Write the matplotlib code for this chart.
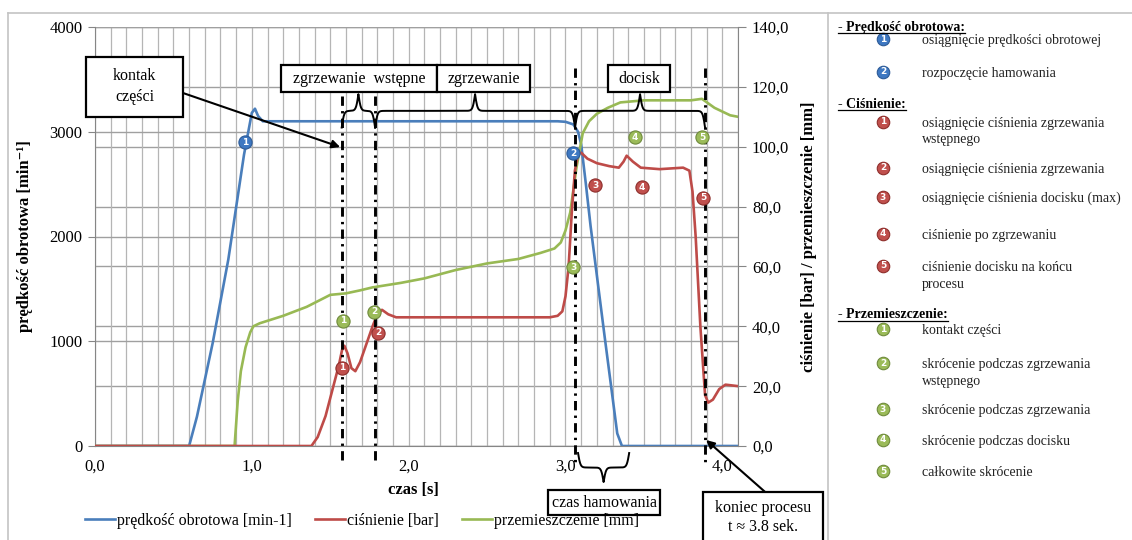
import numpy as np
import matplotlib
matplotlib.use("Agg")
import matplotlib.pyplot as plt
from matplotlib.patches import Rectangle
from matplotlib.lines import Line2D

plt.rcParams['font.family'] = ['Liberation Serif', 'DejaVu Serif']

# dane
t_pred = [0.0, 0.6, 0.65, 0.75, 0.85, 0.95, 1.0, 1.02, 1.04, 1.07, 2.95, 3.0, 3.05, 3.08, 3.1,
          3.13, 3.16, 3.25, 3.33, 3.36, 4.1]
predkosc = [0, 0, 280, 980, 1780, 2780, 3180, 3220, 3150, 3100, 3100, 3095, 3070, 3000, 2880,
            2500, 2100, 1040, 120, 0, 0]

t_cis = [0.0, 1.38, 1.42, 1.47, 1.52, 1.555, 1.575, 1.59, 1.61, 1.635, 1.66, 1.69, 1.73, 1.77,
         1.8, 1.83, 1.87, 1.92, 2.5, 2.9, 2.95, 2.98, 3.0, 3.02, 3.04, 3.06, 3.08, 3.1, 3.14,
         3.2, 3.28, 3.34, 3.37, 3.39, 3.43, 3.48, 3.6, 3.75, 3.79, 3.81, 3.83, 3.86, 3.89,
         3.91, 3.94, 3.98, 4.02, 4.1]
cisnienie = [0, 0, 3, 10, 20, 27, 32, 33.5, 31, 26, 25, 28, 34, 40,
             44, 45.5, 44, 43, 43, 43, 43.5, 45, 50, 60, 78, 92, 97.5, 98, 96,
             94.5, 93.5, 93, 95, 97, 95, 93, 92.5, 93, 92, 85, 70, 40, 17,
             14.5, 15.5, 19, 20.5, 20]

t_przem = [0.0, 0.89, 0.91, 0.93, 0.96, 0.99, 1.01, 1.05, 1.2, 1.35, 1.5, 1.6, 1.69, 1.77,
           1.95, 2.1, 2.3, 2.5, 2.7, 2.84, 2.93, 2.97, 3.0, 3.03, 3.07, 3.11, 3.15, 3.2, 3.27,
           3.35, 3.5, 3.8, 3.87, 3.95, 4.05, 4.1]
przem = [0, 0, 15, 25, 33, 38, 40, 41, 43.5, 46.5, 50.5, 51, 52, 53,
         54.5, 56, 58.8, 61, 62.5, 64.5, 66, 68, 72, 78, 93, 104.5, 108.5, 111, 113,
         114.8, 115.5, 115.5, 116, 113, 110.5, 110]

# chwile zdarzen (linie przerywane) i ich gorne konce [min-1]
t_zdarzen = [1.573, 1.786, 3.061, 3.89]
gora_zdarzen = [3340, 3340, 3609, 3609]

# punkty numerowane: (t, wartosc, numer)
pkt_pred = [(0.957, 2902, 1), (3.048, 2797, 2)]
pkt_cis = [(1.575, 26.1, 1), (1.805, 37.8, 2), (3.189, 87.2, 3), (3.489, 86.5, 4), (3.878, 82.9, 5)]
pkt_przem = [(1.582, 41.8, 1), (1.779, 44.8, 2), (3.048, 59.8, 3), (3.444, 103.2, 4), (3.871, 103.2, 5)]

x_ticks = [0.0, 1.0, 2.0, 3.0, 4.0]
y1_ticks = [0, 1000, 2000, 3000, 4000]
y2_ticks = [0, 20, 40, 60, 80, 100, 120, 140]

NIEB = '#4A7EBB'
CZER = '#BE4B48'
ZIEL = '#98B954'
kolory_pkt = {'b': ('#3E78C2', '#2C5A97'), 'r': ('#C0504D', '#8E2E2B'), 'g': ('#9BBB59', '#6F8A3C')}

W, H = 1132, 540
def fx(x):
    return x / W
def fy(y):
    return 1 - y / H

fig = plt.figure(figsize=(W / 100, H / 100), dpi=100)
ax = fig.add_axes([fx(95), fy(446), (738 - 95) / W, (446 - 27) / H])
ax2 = ax.twinx()

ax.set_xlim(0, 4.1)
ax.set_ylim(0, 4000)
ax2.set_ylim(0, 140)

# siatka
ax.set_xticks(x_ticks)
ax.set_xticks(np.arange(0, 4.1001, 0.1), minor=True)
ax.set_xticklabels([f"{v:.1f}".replace('.', ',') for v in x_ticks], fontsize=12)
ax.set_yticks(y1_ticks)
ax.set_yticklabels([str(v) for v in y1_ticks], fontsize=12)
ax2.set_yticks(y2_ticks)
ax2.set_yticklabels([f"{v:.1f}".replace('.', ',') for v in y2_ticks], fontsize=12)
ax.grid(axis='x', which='both', color='#B5B5B5', lw=0.9)
ax.grid(axis='y', which='major', color='#A0A0A0', lw=1.0)
for v in y2_ticks:
    ax.axhline(v / 140 * 4000, color='#A0A0A0', lw=1.0, zorder=0.5)
ax.set_axisbelow(True)

ax.tick_params(axis='x', which='both', length=0, pad=9)
ax.tick_params(axis='y', length=5, color='#868686', pad=4)
ax2.tick_params(axis='y', length=6, color='#868686', pad=4)
for s in ['top', 'right']:
    ax.spines[s].set_visible(False)
for s in ['top', 'left', 'bottom']:
    ax2.spines[s].set_visible(False)
ax.spines['left'].set_color('#868686')
ax.spines['bottom'].set_color('#868686')
ax2.spines['right'].set_color('#868686')

ax.set_ylabel('prędkość obrotowa [min⁻¹]', fontsize=12, fontweight='bold')
ax.yaxis.set_label_coords(-0.097, 0.5)
ax2.set_ylabel('ciśnienie [bar] / przemieszczenie [mm]', fontsize=12, fontweight='bold')
ax2.yaxis.set_label_coords(1.098, 0.5)
ax.set_xlabel('czas [s]', fontsize=12, fontweight='bold')
ax.xaxis.set_label_coords(0.495, -0.086)

# serie
l1, = ax.plot(t_pred, predkosc, color=NIEB, lw=1.9)
l3, = ax2.plot(t_przem, przem, color=ZIEL, lw=1.9)
l2, = ax2.plot(t_cis, cisnienie, color=CZER, lw=1.9)

T = ax.transData

# linie zdarzen
for t, g in zip(t_zdarzen, gora_zdarzen):
    ax2.plot([t, t], [g, -181], color='black', lw=2.1, ls=(0, (3.2, 1.8, 0.8, 1.8)),
             transform=T, clip_on=False, zorder=5)


def klamra(t1, t2, podstawa, szczyt, beta=130):
    pol = (t2 - t1) / 2
    hx = np.linspace(0, pol, 200)
    s = 1 / (1 + np.exp(-beta * hx)) + 1 / (1 + np.exp(-beta * (hx - pol)))
    hy = podstawa + (s - 0.5) * (szczyt - podstawa)
    x = np.concatenate([t1 + hx, t2 - hx[::-1]])
    y = np.concatenate([hy, hy[::-1]])
    ax2.plot(x, y, color='black', lw=1.4, transform=T, clip_on=False, zorder=6)


klamra(t_zdarzen[0], t_zdarzen[1], 3040, 3359)
klamra(t_zdarzen[1], t_zdarzen[2], 3040, 3359)
klamra(t_zdarzen[2], t_zdarzen[3], 3040, 3359)
klamra(3.08, 3.406, -67, -344)


def ramka(t1, t2, y1, y2):
    ax2.add_patch(Rectangle((t1, y1), t2 - t1, y2 - y1, facecolor='white', edgecolor='black',
                            lw=1.6, transform=T, clip_on=False, zorder=7))


ramka(-0.057, 0.561, 3141, 3714)
ax2.text(0.252, 3530, 'kontak', transform=T, ha='center', va='center', fontsize=11.5, zorder=8)
ax2.text(0.252, 3330, 'części', transform=T, ha='center', va='center', fontsize=11.5, zorder=8)
ramka(1.186, 2.181, 3380, 3637)
ax2.text(1.683, 3508, 'zgrzewanie  wstępne', transform=T, ha='center', va='center', fontsize=11.5, zorder=8)
ramka(2.181, 2.774, 3380, 3637)
ax2.text(2.478, 3508, 'zgrzewanie', transform=T, ha='center', va='center', fontsize=11.5, zorder=8)
ramka(3.272, 3.667, 3380, 3637)
ax2.text(3.47, 3508, 'docisk', transform=T, ha='center', va='center', fontsize=11.5, zorder=8)
ramka(2.889, 3.603, -659, -420)
ax2.text(3.246, -540, 'czas hamowania', transform=T, ha='center', va='center', fontsize=11.5, zorder=8)
ramka(3.878, 4.643, -1000, -439)
ax2.text(4.26, -592, 'koniec procesu', transform=T, ha='center', va='center', fontsize=11.5, zorder=8)
ax2.text(4.26, -773, 't ≈ 3.8 sek.', transform=T, ha='center', va='center', fontsize=11.5, zorder=8)

ax2.annotate('', xy=(1.563, 2854), xytext=(0.561, 3370), xycoords=T, textcoords=T,
             arrowprops=dict(arrowstyle='-|>', color='black', lw=1.5, mutation_scale=12,
                             shrinkA=0, shrinkB=0), annotation_clip=False, zorder=9)
ax2.annotate('', xy=(3.897, 57), xytext=(4.273, -439), xycoords=T, textcoords=T,
             arrowprops=dict(arrowstyle='-|>', color='black', lw=1.5, mutation_scale=12,
                             shrinkA=0, shrinkB=0), annotation_clip=False, zorder=9)


def znacznik(x, y, kol, nr, transform):
    fc, ec = kolory_pkt[kol]
    ax2.plot([x], [y], 'o', ms=9.5, mfc=fc, mec=ec, mew=0.8, transform=transform,
             clip_on=False, zorder=10)
    ax2.text(x, y, str(nr), color='white', fontsize=6.5, fontweight='bold', ha='center',
             va='center', transform=transform, zorder=11, family='DejaVu Sans')


for x, y, n in pkt_pred:
    znacznik(x, y, 'b', n, T)
for x, y, n in pkt_cis:
    znacznik(x, y, 'r', n, ax2.transData)
for x, y, n in pkt_przem:
    znacznik(x, y, 'g', n, ax2.transData)

# legenda dolna
fig.legend([l1, l2, l3], ['prędkość obrotowa [min-1]', 'ciśnienie [bar]', 'przemieszczenie [mm]'],
           loc='center', bbox_to_anchor=(fx(362), fy(521)), ncol=3, frameon=False, fontsize=11.5,
           handlelength=1.9, handletextpad=0.15, columnspacing=1.4)

# ramki wykresu
for xs, ys in [([8, W], [13, 13]), ([8, 8], [13, H]), ([828, 828], [13, H])]:
    fig.add_artist(Line2D([fx(v) for v in xs], [fy(v) for v in ys], color='#C4C4C4', lw=1.2))

# panel opisu punktow
naglowki = [('- Prędkość obrotowa:', 27), ('- Ciśnienie:', 104), ('- Przemieszczenie:', 315)]
opisy = [('b', 1, 'osiągnięcie prędkości obrotowej', 41),
         ('b', 2, 'rozpoczęcie hamowania', 74),
         ('r', 1, 'osiągnięcie ciśnienia zgrzewania\nwstępnego', 124),
         ('r', 2, 'osiągnięcie ciśnienia zgrzewania', 170),
         ('r', 3, 'osiągnięcie ciśnienia docisku (max)', 199),
         ('r', 4, 'ciśnienie po zgrzewaniu', 236),
         ('r', 5, 'ciśnienie docisku na końcu\nprocesu', 268),
         ('g', 1, 'kontakt części', 331),
         ('g', 2, 'skrócenie podczas zgrzewania\nwstępnego', 365),
         ('g', 3, 'skrócenie podczas zgrzewania', 411),
         ('g', 4, 'skrócenie podczas docisku', 442),
         ('g', 5, 'całkowite skrócenie', 473)]

tn = []
for txt, y in naglowki:
    tn.append(fig.text(fx(838), fy(y), txt, fontsize=10, fontweight='bold', va='center'))
for kol, nr, txt, y in opisy:
    fc, ec = kolory_pkt[kol]
    fig.add_artist(Line2D([fx(883)], [fy(y - 2)], marker='o', ms=9, mfc=fc, mec=ec, mew=0.8))
    fig.text(fx(883), fy(y - 2), str(nr), color='white', fontsize=6.5, fontweight='bold',
             ha='center', va='center', family='DejaVu Sans')
    fig.text(fx(922), fy(y - 7), txt, fontsize=10, va='top', linespacing=1.35, color='#222222')

fig.canvas.draw()
r = fig.canvas.get_renderer()
for t in tn:
    bb = t.get_window_extent(r)
    fig.add_artist(Line2D([bb.x0 / W, bb.x1 / W], [(bb.y0 + 1) / H, (bb.y0 + 1) / H],
                          color='black', lw=0.9))

fig.savefig('out.png', dpi=100)
